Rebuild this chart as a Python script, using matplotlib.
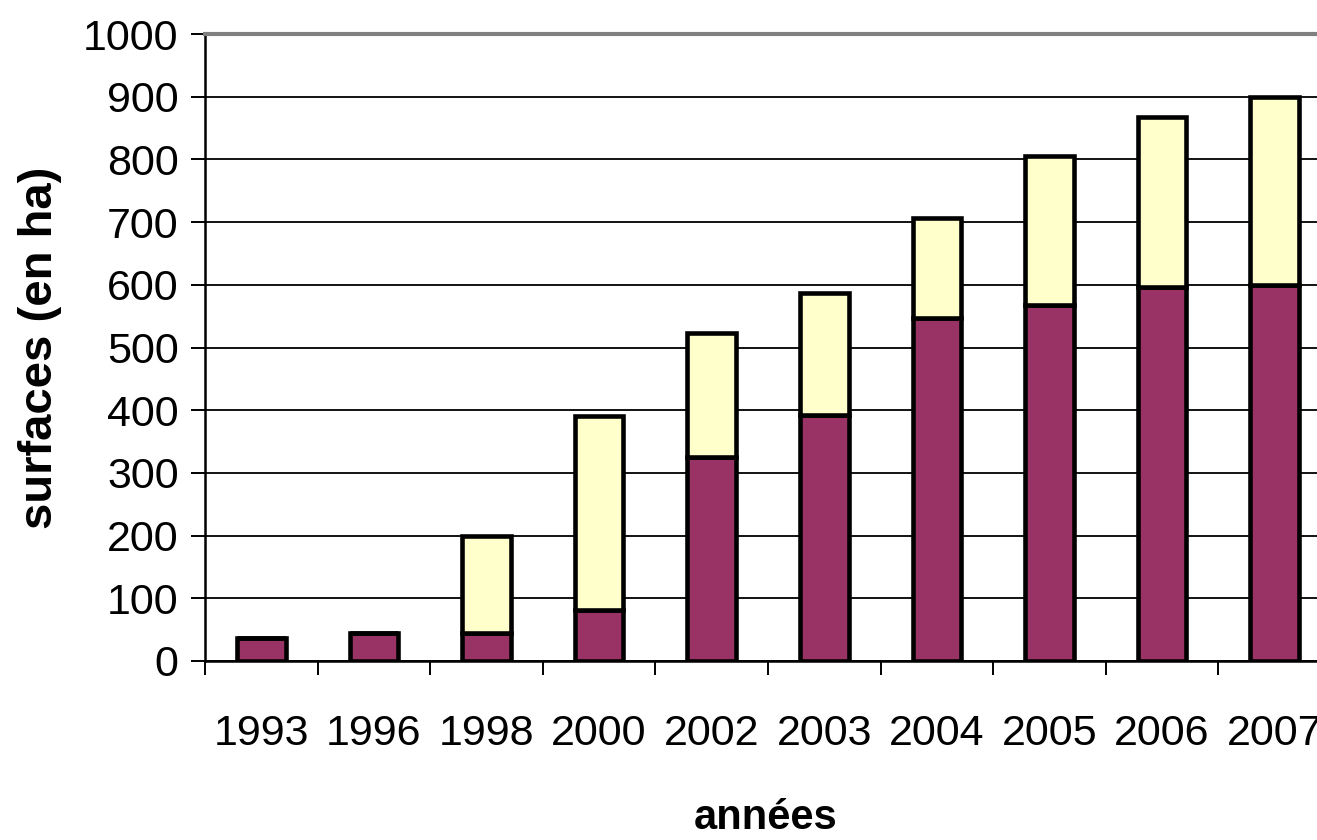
import matplotlib
matplotlib.use("Agg")
import matplotlib.pyplot as plt
import numpy as np

years = ["1993", "1996", "1998", "2000", "2002", "2003", "2004", "2005", "2006", "2007"]
purple_vals = [37, 45, 45, 81, 325, 393, 547, 568, 597, 600]
totals = [37, 45, 200, 390, 523, 587, 706, 806, 867, 900]
yellow_vals = [t - p for t, p in zip(totals, purple_vals)]

plt.rcParams['font.family'] = ['Liberation Sans', 'DejaVu Sans']

W, H = 1317, 840
fig = plt.figure(figsize=(W / 100, H / 100), dpi=100)
left, right, bottom, top = 205 / W, 1331 / W, 1 - 661 / H, 1 - 34 / H
ax = fig.add_axes([left, bottom, right - left, top - bottom])

x = np.arange(len(years))
ax.set_axisbelow(True)
ax.yaxis.grid(True, color='black', linewidth=1.3)
bw = 0.43
ax.bar(x, purple_vals, width=bw, color='#993366', edgecolor='black', linewidth=3.3, zorder=3)
ax.bar(x, yellow_vals, width=bw, bottom=purple_vals, color='#FFFFCC', edgecolor='black', linewidth=3.3, zorder=3)

ax.set_xlim(-0.5, len(years) - 0.5)
ax.set_ylim(0, 1000)
ax.set_yticks(np.arange(0, 1001, 100))
ax.set_xticks(x)
ax.set_xticklabels(years)
ax.set_xticks(np.arange(-0.5, len(years) - 0.5, 1), minor=True)
ax.tick_params(axis='x', which='major', length=0, pad=38, labelsize=31)
ax.tick_params(axis='x', which='minor', length=10, width=1.4, direction='out', color='black')
ax.tick_params(axis='y', length=10, width=1.4, direction='out', pad=9, labelsize=31)

ax.spines['right'].set_visible(False)
ax.spines['top'].set_color('#808080')
ax.spines['top'].set_linewidth(3)
ax.spines['left'].set_linewidth(1.8)
ax.spines['bottom'].set_linewidth(1.8)

fig.text(40 / W, 1 - 348 / H, "surfaces (en ha)", rotation=90, ha='center', va='center',
         fontsize=34, fontweight='bold')
fig.text(766 / W, 1 - 818 / H, "années", ha='center', va='center', fontsize=30, fontweight='bold')

fig.savefig("out.png", dpi=100)
